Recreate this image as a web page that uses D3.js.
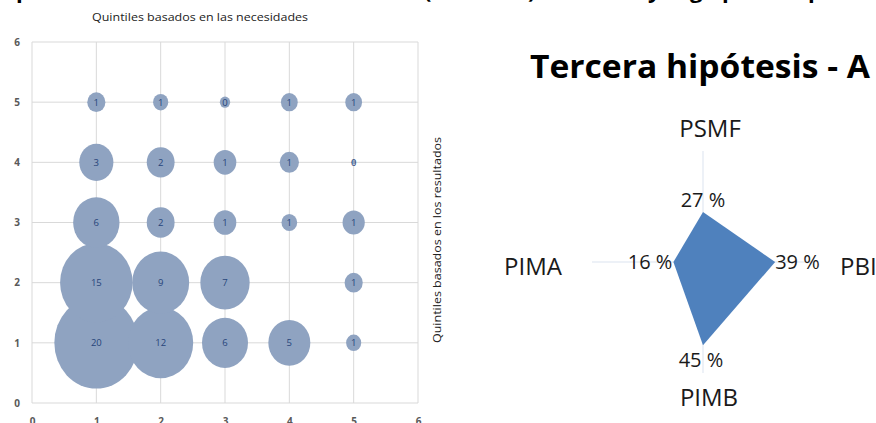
<!DOCTYPE html>
<html>
<head>
<meta charset="utf-8">
<script src="https://cdn.jsdelivr.net/npm/d3@7"></script>
<style>
  html, body { margin: 0; padding: 0; background: #fff; }
  svg { display: block; }
</style>
</head>
<body>
<svg id="chart" width="876" height="423"></svg>
<script>
// ---------- Bubble chart data ----------
const needQuintile   = [1, 2, 3, 4, 5,   1, 2, 3, 4, 5,   1, 2, 3, 4, 5,   1, 2, 3, 5,   1, 2, 3, 4, 5];
const resultQuintile = [5, 5, 5, 5, 5,   4, 4, 4, 4, 4,   3, 3, 3, 3, 3,   2, 2, 2, 2,   1, 1, 1, 1, 1];
const shareValue     = [0.93, 0.65, 0.3, 0.8, 0.8,
                        3.3, 2.2, 1.45, 1.05, 0.05,
                        6.1, 2.2, 1.45, 0.7, 1.4,
                        14.9, 9.2, 6.9, 0.93,
                        20, 12, 6, 5, 0.65];
const axisTicks = [0, 1, 2, 3, 4, 5, 6];
const bubbleTitle = "Quintiles basados en las necesidades";
const bubbleYTitle = "Quintiles basados en los resultados";

// ---------- Radar chart data ----------
const radarTitle = "Tercera hipótesis - A";
const radarAxes = ["PSMF", "PBI", "PIMB", "PIMA"];
const radarValues = [27, 39, 45, 16];
const radarMax = 60;

// ---------- Cut-off header fragments ----------
const headerBits = ["p", "(", ")", "y", "g", "p", "p"];
const headerX    = [16, 424, 528, 648, 690, 722, 808];

const svg = d3.select("#chart");
const FONT = "'Open Sans', 'Liberation Sans', sans-serif";

// header descenders (text cut off by the top edge)
svg.append("g").selectAll("text").data(headerBits).join("text")
  .attr("x", (d, i) => headerX[i]).attr("y", -2.5)
  .attr("font-family", FONT).attr("font-weight", "bold").attr("font-size", 22)
  .attr("fill", "#000").text(d => d);

// ---------- Bubble chart ----------
const x = d3.scaleLinear().domain([0, 6]).range([32, 418]);
const y = d3.scaleLinear().domain([0, 6]).range([403, 42]);
const r = d3.scaleSqrt().domain([0, 20]).range([0, 42]);
const yStretch = 1.09;

const bub = svg.append("g");
// grid
bub.append("g").selectAll("line.v").data(axisTicks).join("line")
  .attr("x1", d => x(d)).attr("x2", d => x(d)).attr("y1", y(0)).attr("y2", y(6))
  .attr("stroke", "#d9d9d9").attr("stroke-width", 1);
bub.append("g").selectAll("line.h").data(axisTicks).join("line")
  .attr("x1", x(0)).attr("x2", x(6)).attr("y1", d => y(d)).attr("y2", d => y(d))
  .attr("stroke", "#d9d9d9").attr("stroke-width", 1);

// axes tick labels
const yAxis = d3.axisLeft(y).tickValues(axisTicks).tickFormat(d3.format("d")).tickSize(0).tickPadding(12);
const gy = bub.append("g").attr("transform", `translate(${x(0)},0)`).call(yAxis);
gy.select(".domain").remove();
gy.selectAll("text").attr("font-family", FONT).attr("font-weight", "bold")
  .attr("font-size", 10).attr("fill", "#595959").attr("text-anchor", "middle").attr("x", -15);

const xAxis = d3.axisBottom(x).tickValues(axisTicks).tickFormat(d3.format("d")).tickSize(0).tickPadding(15);
const gx = bub.append("g").attr("transform", `translate(0,${y(0)})`).call(xAxis);
gx.select(".domain").remove();
gx.selectAll("text").attr("font-family", FONT).attr("font-weight", "bold")
  .attr("font-size", 10).attr("fill", "#595959");

// bubbles (largest first)
const pts = shareValue.map((v, i) => ({ nx: needQuintile[i], ry: resultQuintile[i], v }))
  .sort((a, b) => b.v - a.v);
bub.append("g").selectAll("ellipse").data(pts).join("ellipse")
  .attr("cx", d => x(d.nx)).attr("cy", d => y(d.ry))
  .attr("rx", d => r(d.v)).attr("ry", d => r(d.v) * yStretch)
  .attr("fill", "#8fa3c1");
bub.append("g").selectAll("text").data(pts).join("text")
  .attr("x", d => x(d.nx)).attr("y", d => y(d.ry) + 3.5)
  .attr("text-anchor", "middle").attr("font-family", FONT).attr("font-size", 9.5)
  .attr("fill", "#27457a").text(d => Math.round(d.v));

// titles
bub.append("text").attr("x", 200).attr("y", 21).attr("text-anchor", "middle")
  .attr("font-family", FONT).attr("font-size", 11).attr("fill", "#222")
  .attr("textLength", 216).attr("lengthAdjust", "spacingAndGlyphs").text(bubbleTitle);
bub.append("text").attr("transform", "translate(441,240) rotate(-90)").attr("text-anchor", "middle")
  .attr("font-family", FONT).attr("font-size", 11).attr("fill", "#222")
  .attr("textLength", 206).attr("lengthAdjust", "spacingAndGlyphs").text(bubbleYTitle);

// ---------- Radar chart ----------
const cx = 703, cy = 262, R = 111;
const rr = d3.scaleLinear().domain([0, radarMax]).range([0, R]);
const ang = d3.scaleBand().domain(radarAxes).range([0, 2 * Math.PI]);
const px = (a, v) => cx + Math.sin(ang(a)) * rr(v);
const py = (a, v) => cy - Math.cos(ang(a)) * rr(v);

const rad = svg.append("g");
rad.append("text").attr("x", 530).attr("y", 78)
  .attr("font-family", FONT).attr("font-weight", "bold").attr("font-size", 32).attr("fill", "#000")
  .attr("textLength", 340).attr("lengthAdjust", "spacingAndGlyphs").text(radarTitle);

rad.append("g").selectAll("line").data(radarAxes).join("line")
  .attr("x1", cx).attr("y1", cy)
  .attr("x2", d => px(d, radarMax)).attr("y2", d => py(d, radarMax))
  .attr("stroke", "#dbe3ef").attr("stroke-width", 1);

const line = d3.lineRadial().angle(d => ang(d.a)).radius(d => rr(d.v)).curve(d3.curveLinearClosed);
rad.append("path")
  .attr("transform", `translate(${cx},${cy})`)
  .datum(radarAxes.map((a, i) => ({ a, v: radarValues[i] })))
  .attr("d", line).attr("fill", "#4f81bd");

// value labels
const valPos = {
  PSMF: { dx: 0, dy: -5, anchor: "middle" },
  PBI:  { dx: 0, dy: 7, anchor: "start" },
  PIMB: { dx: -2, dy: 22, anchor: "middle" },
  PIMA: { dx: -1, dy: 7, anchor: "end" }
};
rad.append("g").selectAll("text").data(radarAxes).join("text")
  .attr("x", (d, i) => px(d, radarValues[i]) + valPos[d].dx)
  .attr("y", (d, i) => py(d, radarValues[i]) + valPos[d].dy)
  .attr("text-anchor", d => valPos[d].anchor)
  .attr("font-family", FONT).attr("font-size", 20).attr("fill", "#1a1a1a")
  .text((d, i) => radarValues[i] + " %");

// category labels
const catPos = {
  PSMF: { x: 710, y: 137, anchor: "middle" },
  PBI:  { x: 840, y: 275, anchor: "start" },
  PIMB: { x: 709, y: 406, anchor: "middle" },
  PIMA: { x: 533, y: 275, anchor: "middle" }
};
rad.append("g").selectAll("text").data(radarAxes).join("text")
  .attr("x", d => catPos[d].x).attr("y", d => catPos[d].y)
  .attr("text-anchor", d => catPos[d].anchor)
  .attr("font-family", FONT).attr("font-size", 24).attr("fill", "#1a1a1a")
  .text(d => d);
</script>
</body>
</html>
